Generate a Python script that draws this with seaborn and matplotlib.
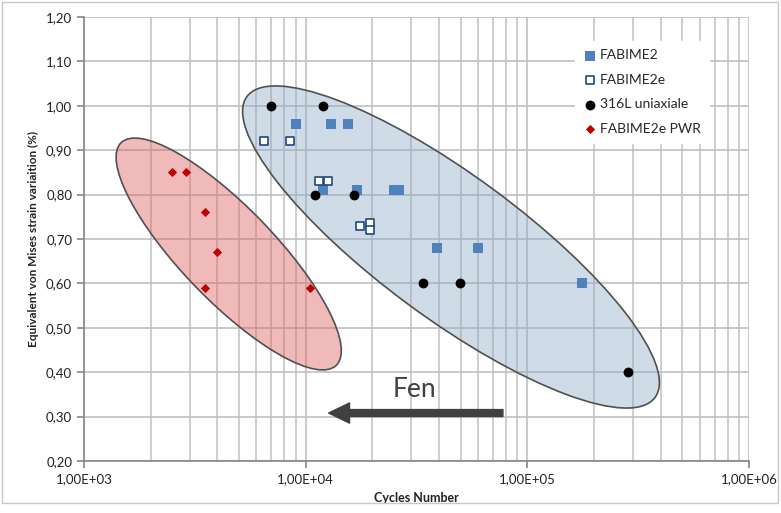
import numpy as np
import pandas as pd
import matplotlib
matplotlib.use("Agg")
import matplotlib.pyplot as plt
import matplotlib.ticker as ticker
from matplotlib.patches import Ellipse, Rectangle
from matplotlib.transforms import Affine2D
import seaborn as sns

# data
fab2_x = [9000, 13000, 15500, 12000, 17000, 25000, 26500, 39000, 60000, 176000]
fab2_y = [0.96, 0.96, 0.96, 0.81, 0.81, 0.81, 0.81, 0.68, 0.68, 0.60]
fab2e_x = [6500, 8500, 11500, 12600, 17500, 19500, 19500]
fab2e_y = [0.92, 0.92, 0.83, 0.83, 0.73, 0.735, 0.72]
uni_x = [7000, 12000, 11000, 16500, 34000, 49500, 285000]
uni_y = [1.00, 1.00, 0.80, 0.80, 0.60, 0.60, 0.40]
pwr_x = [2500, 2900, 3500, 4000, 3500, 10500]
pwr_y = [0.85, 0.85, 0.76, 0.67, 0.59, 0.59]

series = ["FABIME2", "FABIME2e", "316L uniaxiale", "FABIME2e PWR"]

df = pd.concat([
    pd.DataFrame({"cycles": fab2_x, "strain": fab2_y, "serie": series[0]}),
    pd.DataFrame({"cycles": fab2e_x, "strain": fab2e_y, "serie": series[1]}),
    pd.DataFrame({"cycles": uni_x, "strain": uni_y, "serie": series[2]}),
    pd.DataFrame({"cycles": pwr_x, "strain": pwr_y, "serie": series[3]}),
])

sns.set_style("white")
plt.rcParams['font.family'] = ['Lato', 'DejaVu Sans']

fig = plt.figure(figsize=(7.81, 5.13), dpi=100)
ax = fig.add_axes([84/781, 1 - 461/513, 665/781, 444/513])

# outer frame of the picture
fig.patches.append(Rectangle((2/781, 10/513), 776/781, 501/513, transform=fig.transFigure,
                             fill=False, edgecolor='#c8c8c8', lw=1))

ax.set_xscale('log')
ax.set_xlim(1e3, 1e6)
ax.set_ylim(0.2, 1.2)

# ellipses, drawn in axis pixel space (665 x 444)
px = Affine2D().scale(1/665, 1/444) + ax.transAxes
ax.add_patch(Ellipse((367, 214), 2*253.5, 2*71.5, angle=-36.4, transform=px,
                     facecolor='#8eaac4', alpha=0.42, edgecolor='none', zorder=1.5))
ax.add_patch(Ellipse((367, 214), 2*253.5, 2*71.5, angle=-36.4, transform=px,
                     facecolor='none', edgecolor='#505050', lw=1.2, zorder=1.6))
ax.add_patch(Ellipse((144.7, 207), 2*154.8, 2*46.5, angle=-46, transform=px,
                     facecolor='#e06666', alpha=0.45, edgecolor='none', zorder=1.5))
ax.add_patch(Ellipse((144.7, 207), 2*154.8, 2*46.5, angle=-46, transform=px,
                     facecolor='none', edgecolor='#505050', lw=1.2, zorder=1.6))

styles = {
    "FABIME2": dict(marker='s', s=42, color='#4f81bd', edgecolor='#4f81bd', linewidth=0),
    "FABIME2e": dict(marker='s', s=36, color='white', edgecolor='#1f497d', linewidth=1.2),
    "316L uniaxiale": dict(marker='o', s=50, color='black', edgecolor='black', linewidth=0),
    "FABIME2e PWR": dict(marker='D', s=22, color='#c00000', edgecolor='#c00000', linewidth=0),
}
for name in series:
    sub = df[df.serie == name]
    sns.scatterplot(data=sub, x="cycles", y="strain", ax=ax, label=name, zorder=3, **styles[name])

# Fen arrow
ax.annotate('', xy=(12700, 0.308), xytext=(77600, 0.308),
            arrowprops=dict(arrowstyle='simple,head_length=1.5,head_width=1.45,tail_width=0.5',
                            mutation_scale=10, color='#404040', shrinkA=0, shrinkB=0), zorder=4)
ax.text(31000, 0.36, 'Fen', fontsize=19, color='#404040', ha='center', va='center')

# grid and axes like the original spreadsheet chart
ax.set_axisbelow(True)
ax.yaxis.set_major_locator(ticker.MultipleLocator(0.1))
ax.xaxis.set_major_locator(ticker.LogLocator(base=10, numticks=10))
ax.xaxis.set_minor_locator(ticker.LogLocator(base=10, subs=np.arange(2, 10), numticks=20))
ax.grid(True, which='major', color='#c0c0c0', lw=1.2)
ax.grid(True, which='minor', axis='x', color='#c0c0c0', lw=1.1)
ax.yaxis.set_major_formatter(ticker.FuncFormatter(lambda v, p: ('%.2f' % v).replace('.', ',')))
ax.xaxis.set_major_formatter(ticker.FuncFormatter(lambda v, p: ('%.2E' % v).replace('.', ',')))
ax.xaxis.set_minor_formatter(ticker.NullFormatter())
for side in ['top', 'right']:
    ax.spines[side].set_visible(False)
for side in ['left', 'bottom']:
    ax.spines[side].set_color('#868686')
    ax.spines[side].set_linewidth(1.2)
ax.tick_params(axis='both', which='major', direction='out', length=5, width=1.2,
               color='#868686', labelsize=9.5, labelcolor='#222222', left=True, bottom=True)
ax.tick_params(axis='x', which='minor', length=0)
ax.tick_params(axis='x', pad=4)

ax.set_xlabel('Cycles Number', fontsize=9, fontweight='bold', color='#222222', labelpad=5)
ax.set_ylabel('Equivalent von Mises strain variaition (%)', fontsize=8.5, fontweight='bold',
              color='#222222', labelpad=5)

leg = ax.legend(loc='upper left', bbox_to_anchor=(0.728, 0.962), frameon=True, fancybox=False,
                framealpha=1, facecolor='white', edgecolor='white', fontsize=10,
                labelspacing=0.9, handletextpad=0.2, handlelength=1.0, borderpad=0.6)

fig.savefig('out.png', dpi=100)
